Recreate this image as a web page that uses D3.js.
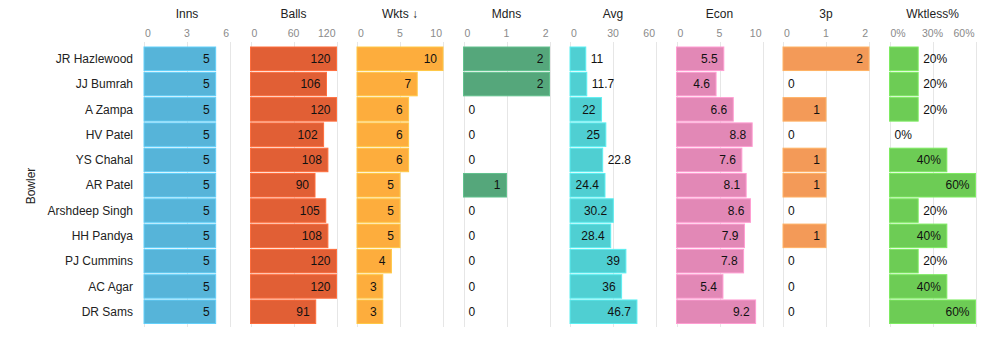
<!DOCTYPE html>
<html><head><meta charset="utf-8">
<script src="https://cdn.jsdelivr.net/npm/d3@7"></script>
<style>body{margin:0;background:#fff}svg text{font-family:"Liberation Sans",Arial,sans-serif}</style>
</head><body><svg id="c" width="1000" height="337"></svg>
<script>
const bowlers = ["JR Hazlewood","JJ Bumrah","A Zampa","HV Patel","YS Chahal","AR Patel","Arshdeep Singh","HH Pandya","PJ Cummins","AC Agar","DR Sams"];
const inns = [5,5,5,5,5,5,5,5,5,5,5];
const balls = [120,106,120,102,108,90,105,108,120,120,91];
const wkts = [10,7,6,6,6,5,5,5,4,3,3];
const mdns = [2,2,0,0,0,1,0,0,0,0,0];
const avg = [11,11.7,22,25,22.8,24.4,30.2,28.4,39,36,46.7];
const econ = [5.5,4.6,6.6,8.8,7.6,8.1,8.6,7.9,7.8,5.4,9.2];
const threeP = [2,0,1,0,1,1,0,1,0,0,0];
const wktless = [20,20,20,0,40,60,20,40,20,40,60];

const titles = ["Inns","Balls","Wkts \u2193","Mdns","Avg","Econ","3p","Wktless%"];
const seriesList = [inns,balls,wkts,mdns,avg,econ,threeP,wktless];
const maxes = [6,120,10,2,60,10,2,60];
const ticksList = [[0,3,6],[0,60,120],[0,5,10],[0,1,2],[0,30,60],[0,5,10],[0,1,2],[0,30,60]];
const colors = ["#56b4d9","#e15f35","#fdad3d","#55a77b","#4fcfd2","#e288b6","#f39a58","#6dcc55"];
const fmt = [d=>d,d=>d,d=>d,d=>d,d=>d,d=>d,d=>d,d=>d+"%"];

const svg = d3.select("#c");
const panelX0 = 144, panelStep = 106.5, panelW = 86;
const y = d3.scaleBand().domain(bowlers).range([46.5, 324]).paddingInner(0.07).paddingOuter(0.02);

svg.append("g").selectAll("text").data(bowlers).join("text")
  .attr("x",133).attr("y",d=>y(d)+y.bandwidth()/2).attr("dy","0.35em")
  .attr("text-anchor","end").attr("font-size",12).attr("fill","#222").text(d=>d);
svg.append("text").attr("transform","translate(35,186) rotate(-90)")
  .attr("text-anchor","middle").attr("font-size",12).attr("fill","#222").text("Bowler");

const measure = svg.append("text").attr("font-size",12).attr("visibility","hidden");
function tw(s){ measure.text(s); return measure.node().getComputedTextLength(); }

seriesList.forEach((vals,i)=>{
  const x0 = panelX0 + i*panelStep;
  const x = d3.scaleLinear().domain([0,maxes[i]]).range([x0, x0+panelW]);
  const g = svg.append("g");
  g.append("text").attr("x",x0+panelW/2).attr("y",18).attr("text-anchor","middle")
    .attr("font-size",12).attr("fill","#222").text(titles[i]);
  const tk = ticksList[i];
  g.selectAll("line.grid").data(tk).join("line")
    .attr("x1",d=>Math.round(x(d))+0.5).attr("x2",d=>Math.round(x(d))+0.5).attr("y1",42).attr("y2",327)
    .attr("stroke","#e6e6e6").attr("stroke-width",1);
  g.selectAll("text.tick").data(tk).join("text")
    .attr("x",(d,k)=>k===0?x(d)+1:(k===tk.length-1?x(d)-1:x(d)))
    .attr("y",37)
    .attr("text-anchor",(d,k)=>k===0?"start":(k===tk.length-1?"end":"middle"))
    .attr("font-size",10.5).attr("fill","#8a8a8a").text(d=>fmt[i](d));
  const c = d3.color(colors[i]);
  g.selectAll("rect").data(vals).join("rect")
    .attr("x",x(0)).attr("y",(d,j)=>y(bowlers[j]))
    .attr("width",d=>x(d)-x(0)).attr("height",y.bandwidth())
    .attr("fill",colors[i]).attr("stroke",c.brighter(0.4)).attr("stroke-width",d=>d>0?1:0);
  g.selectAll("text.val").data(vals).join("text")
    .each(function(d,j){
      const s = String(fmt[i](d));
      const w = x(d)-x(0);
      const inside = w > tw(s)+10.5;
      d3.select(this).attr("x", inside ? x(d)-6 : x(d)+5)
        .attr("text-anchor", inside ? "end":"start")
        .attr("y", y(bowlers[j])+y.bandwidth()/2).attr("dy","0.35em")
        .attr("font-size",12).attr("fill","#111").text(s);
    });
});
measure.remove();
</script></body></html>
